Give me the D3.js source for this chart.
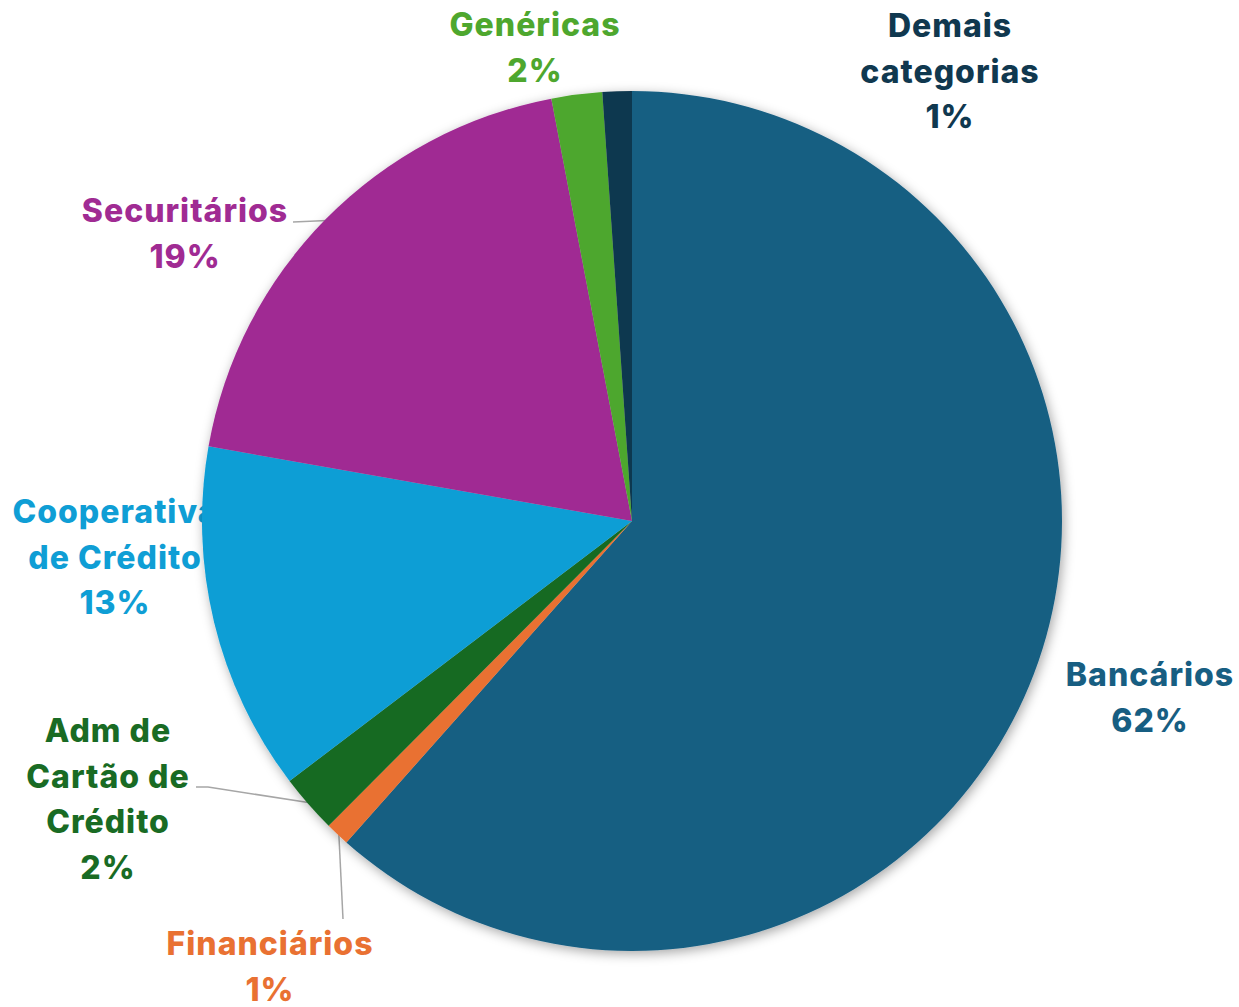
<!DOCTYPE html>
<html>
<head>
<meta charset="utf-8">
<script src="https://cdn.jsdelivr.net/npm/d3@7"></script>
<style>
  body { margin: 0; background: #fff; }
  svg { display: block; }
  text { font-family: Inter, "Open Sans", sans-serif; font-weight: 800; letter-spacing: 1px; }
</style>
</head>
<body>
<svg id="chart" width="1239" height="1007"></svg>
<script>
// data (clockwise from 12 o'clock)
const categories = ["Bancários", "Financiários", "Adm de Cartão de Crédito", "Cooperativa de Crédito", "Securitários", "Genéricas", "Demais categorias"];
const values = [61.5, 0.9, 2.2, 13.1, 19.2, 1.9, 1.1];
const percentLabels = ["62%", "1%", "2%", "13%", "19%", "2%", "1%"];
const colors = ["#175E82", "#E97132", "#196B24", "#0F9ED5", "#A02B93", "#4EA72E", "#10384F"];

// label layout: how each name is wrapped, where the block sits
const nameLines = [["Bancários"], ["Financiários"], ["Adm de", "Cartão de", "Crédito"], ["Cooperativa", "de Crédito"], ["Securitários"], ["Genéricas"], ["Demais", "categorias"]];
const labelAnchor = [[1150, 686], [270, 955], [108, 742], [115, 523], [185, 222], [535, 36], [950, 37]];
// leader lines: start point next to the label (null = none)
const leaderStart = [null, [343, 919], [196, 787], null, [293, 222], null, null];
const leaderElbow = [null, null, [208, 787], null, null, null, null];

const svg = d3.select("#chart");
const cx = 632, cy = 521, radius = 430;
const lineH = 45.5;

const defs = svg.append("defs");
const f = defs.append("filter").attr("id", "shadow")
    .attr("x", "-10%").attr("y", "-10%").attr("width", "120%").attr("height", "120%");
f.append("feDropShadow").attr("dx", 2).attr("dy", 3).attr("stdDeviation", 6)
    .attr("flood-color", "#000").attr("flood-opacity", 0.35);

const pie = d3.pie().sort(null).value(d => d)(values);
const arc = d3.arc().innerRadius(0).outerRadius(radius);

// labels first, the pie covers them where they overlap
const labels = svg.append("g");
categories.forEach((c, i) => {
    const lines = nameLines[i].concat([percentLabels[i]]);
    const t = labels.append("text")
        .attr("text-anchor", "middle")
        .attr("fill", colors[i])
        .attr("font-size", 32);
    lines.forEach((l, j) => {
        t.append("tspan")
            .attr("x", labelAnchor[i][0])
            .attr("y", labelAnchor[i][1] + j * lineH)
            .text(l);
    });
});

// leader lines to the middle of the slice edge
const leaders = svg.append("g");
pie.forEach((d, i) => {
    if (!leaderStart[i]) return;
    const a = (d.startAngle + d.endAngle) / 2;
    const end = [cx + Math.sin(a) * (radius - 2), cy - Math.cos(a) * (radius - 2)];
    const pts = [leaderStart[i]];
    if (leaderElbow[i]) pts.push(leaderElbow[i]);
    pts.push(end);
    leaders.append("path")
        .attr("d", d3.line()(pts))
        .attr("fill", "none")
        .attr("stroke", "#A6A6A6")
        .attr("stroke-width", 1.5);
});

const g = svg.append("g")
    .attr("transform", `translate(${cx},${cy})`)
    .attr("filter", "url(#shadow)");

g.selectAll("path")
    .data(pie)
    .join("path")
    .attr("d", arc)
    .attr("fill", (d, i) => colors[i]);
</script>
</body>
</html>
